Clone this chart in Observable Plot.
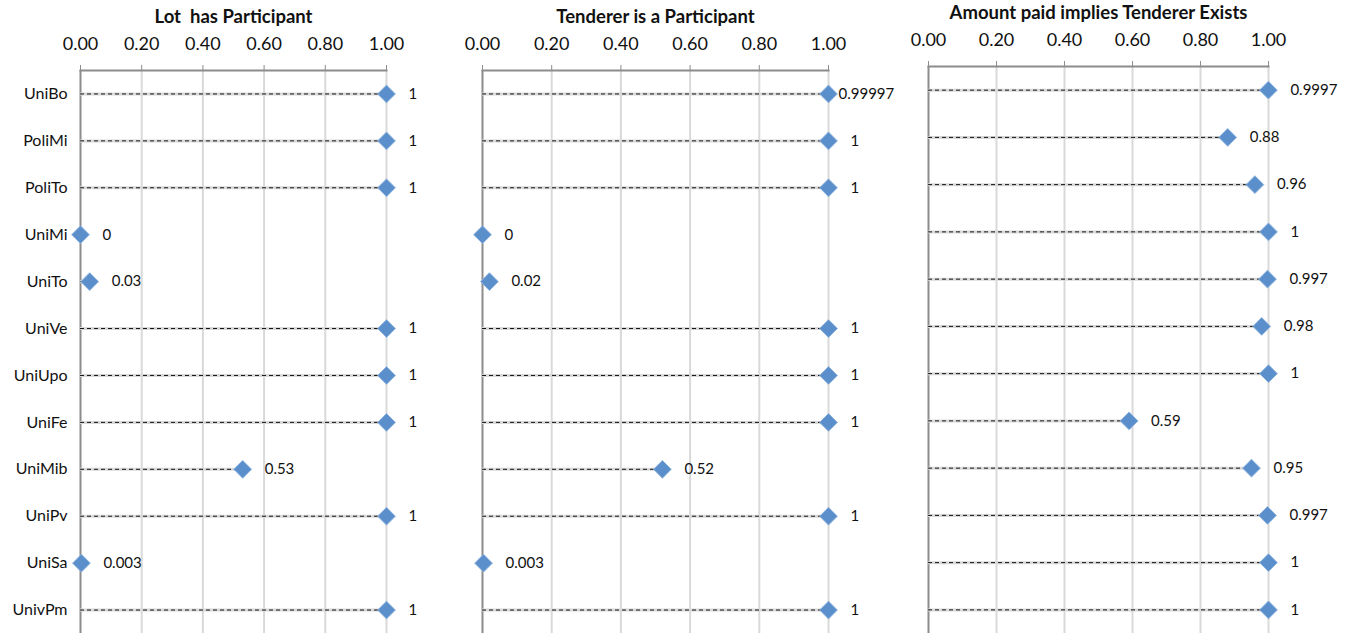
<!DOCTYPE html>
<html>
<head>
<meta charset="utf-8">
<script src="https://cdn.jsdelivr.net/npm/d3@7"></script>
<script src="https://cdn.jsdelivr.net/npm/@observablehq/plot@0.6"></script>
<style>
  html, body { margin: 0; padding: 0; background: #fff; }
  #wrap { position: relative; width: 1350px; height: 633px; overflow: hidden; font-family: Lato, "Open Sans", sans-serif; }
  #wrap > svg { position: absolute; top: 0; }
</style>
</head>
<body>
<div id="wrap"></div>
<script>
const categories = ["UniBo","PoliMi","PoliTo","UniMi","UniTo","UniVe","UniUpo","UniFe","UniMib","UniPv","UniSa","UnivPm"];
const lotHasParticipant = [1, 1, 1, 0, 0.03, 1, 1, 1, 0.53, 1, 0.003, 1];
const tendererIsParticipant = [0.99997, 1, 1, 0, 0.02, 1, 1, 1, 0.52, 1, 0.003, 1];
const amountPaidImpliesTenderer = [0.9997, 0.88, 0.96, 1, 0.997, 0.98, 1, 0.59, 0.95, 0.997, 1, 1];
const xTicks = [0, 0.2, 0.4, 0.6, 0.8, 1.0];
const panelTitles = ["Lot  has Participant", "Tenderer is a Participant", "Amount paid implies Tenderer Exists"];

const panels = [
  {title: panelTitles[0], values: lotHasParticipant, left: 0, width: 450, marginLeft: 80, marginRight: 64, marginTop: 70, showY: true},
  {title: panelTitles[1], values: tendererIsParticipant, left: 450, width: 450, marginLeft: 32, marginRight: 72, marginTop: 70, showY: false},
  {title: panelTitles[2], values: amountPaidImpliesTenderer, left: 900, width: 450, marginLeft: 28, marginRight: 82, marginTop: 66, showY: false}
];

const blue = "#5b8fcb";
const axisGray = "#8c8c8c";
const gridGray = "#d9d9d9";

for (const p of panels) {
  const data = categories.map((c, i) => ({cat: c, v: p.values[i], label: String(p.values[i])}));
  const chart = Plot.plot({
    width: p.width,
    height: 633,
    marginLeft: p.marginLeft,
    marginRight: p.marginRight,
    marginTop: p.marginTop,
    marginBottom: 0,
    style: {fontFamily: "Lato, 'Open Sans', sans-serif", background: "transparent", overflow: "visible"},
    x: {domain: [0, 1], ticks: xTicks, label: null},
    y: {type: "point", domain: categories, padding: 0.5, round: false, label: null},
    marks: [
      Plot.gridX(xTicks.filter(d => d > 0), {stroke: gridGray, strokeOpacity: 1, strokeWidth: 2}),
      Plot.ruleX([0], {stroke: axisGray, strokeWidth: 2}),
      Plot.frame({anchor: "top", stroke: axisGray, strokeWidth: 2}),
      Plot.axisX({anchor: "top", ticks: xTicks, tickSize: 6, tickPadding: 15, tickFormat: d3.format(".2f"),
        stroke: axisGray, fontSize: 18, fill: "#111", label: null}),
      p.showY
        ? Plot.axisY({anchor: "left", tickSize: 0, tickPadding: 13, fontSize: 16, fill: "#111", label: null})
        : Plot.axisY({anchor: "left", tickSize: 0, tickFormat: () => "", label: null}),
      Plot.ruleY(data, {y: "cat", x1: 0, x2: "v", stroke: gridGray, strokeWidth: 3}),
      Plot.ruleY(data, {y: "cat", x1: 0, x2: "v", stroke: "#111", strokeWidth: 1, strokeDasharray: "4,3"}),
      Plot.dot(data, {x: "v", y: "cat", symbol: "diamond2", r: 8, fill: blue, stroke: "#8fb4de", strokeWidth: 1}),
      Plot.text(data.filter(d => d.label.length <= 6), {x: "v", y: "cat", text: "label", dx: 22, textAnchor: "start", fontSize: 15, fill: "#111"}),
      Plot.text(data.filter(d => d.label.length > 6), {x: "v", y: "cat", text: "label", dx: 10, textAnchor: "start", fontSize: 15, fill: "#111"}),
      Plot.text([p.title], {frameAnchor: "top", dy: -53, fontSize: 18.5, fontWeight: "bold", fill: "#111", lineAnchor: "middle"})
    ]
  });
  chart.style.left = p.left + "px";
  document.getElementById("wrap").appendChild(chart);
}
</script>
</body>
</html>
